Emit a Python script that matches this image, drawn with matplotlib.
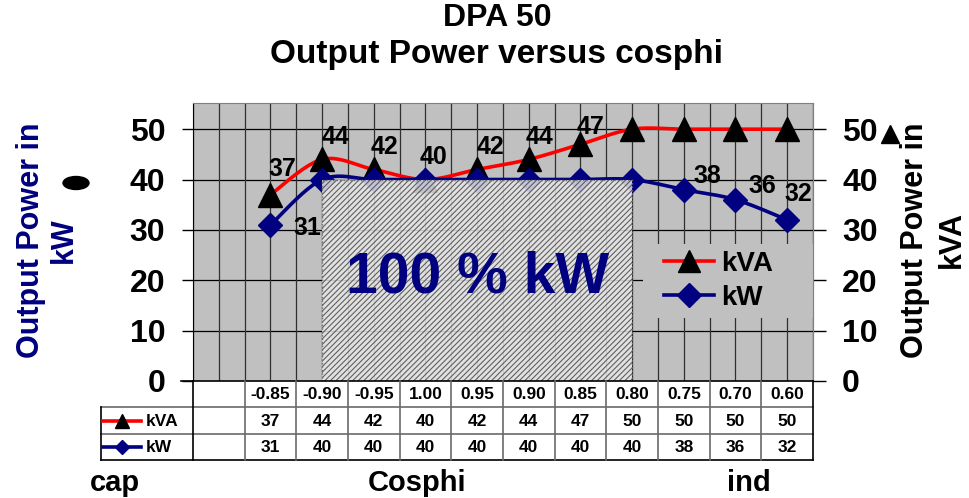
import numpy as np
import matplotlib
matplotlib.use("Agg")
import matplotlib.pyplot as plt
from matplotlib.patches import Rectangle, Ellipse
from matplotlib.lines import Line2D

plt.rcParams['font.family'] = ['Liberation Sans', 'DejaVu Sans']
plt.rcParams['font.weight'] = 'bold'
plt.rcParams['hatch.linewidth'] = 0.8

# data
cosphi = ["-0.85", "-0.90", "-0.95", "1.00", "0.95", "0.90", "0.85", "0.80", "0.75", "0.70", "0.60"]
kva = [37, 44, 42, 40, 42, 44, 47, 50, 50, 50, 50]
kw = [31, 40, 40, 40, 40, 40, 40, 40, 38, 36, 32]
full_kw_range = ("-0.90", "0.80")
full_kw_level = 40

W, H = 970, 498
GRAY = '#c0c0c0'
NAVY = '#000080'


def fx(px):
    return px / W


def fy(py):
    return 1 - py / H


def smooth(x, y, n=24):
    # excel-like smoothed line (bezier through the points)
    x = np.asarray(x, float)
    y = np.asarray(y, float)
    px = np.r_[x[0], x, x[-1]]
    py = np.r_[y[0], y, y[-1]]
    t = np.linspace(0, 1, n)
    xs, ys = [], []
    for i in range(1, len(px) - 2):
        p0 = np.array([px[i - 1], py[i - 1]])
        p1 = np.array([px[i], py[i]])
        p2 = np.array([px[i + 1], py[i + 1]])
        p3 = np.array([px[i + 2], py[i + 2]])
        c1 = p1 + (p2 - p0) / 6
        c2 = p2 - (p3 - p1) / 6
        b = ((1 - t) ** 3)[:, None] * p1 + (3 * (1 - t) ** 2 * t)[:, None] * c1 \
            + (3 * (1 - t) * t ** 2)[:, None] * c2 + (t ** 3)[:, None] * p2
        xs.extend(b[:, 0])
        ys.extend(b[:, 1])
    return np.array(xs), np.array(ys)


fig = plt.figure(figsize=(W / 100, H / 100), dpi=100)

x0, x1, yb, yt = 193, 813, 381, 103
ax = fig.add_axes([fx(x0), fy(yb), fx(x1 - x0), (yb - yt) / H])
ax.set_facecolor(GRAY)
ax.set_xlim(-0.5, 11.5)
ax.set_ylim(0, 55.2)
xpos = np.arange(1, len(cosphi) + 1)

for v in range(10, 60, 10):
    ax.axhline(v, color='black', lw=0.9, zorder=1)
for v in np.arange(-0.5, 11.6, 0.5):
    ax.axvline(v, color='#303030', lw=0.9, zorder=1)

sx, sy = smooth(xpos, kva)
ax.plot(sx, sy, color='red', lw=2.6, zorder=3)
ax.plot(xpos, kva, ls='none', marker='^', ms=17, color='black', zorder=3)
sx, sy = smooth(xpos, kw)
ax.plot(sx, sy, color=NAVY, lw=2.6, zorder=3.5)
ax.plot(xpos, kw, ls='none', marker='D', ms=12, color=NAVY, zorder=3.5)

# 100 % kW area
r0 = xpos[cosphi.index(full_kw_range[0])]
r1 = xpos[cosphi.index(full_kw_range[1])]
ax.add_patch(Rectangle((r0, 0), r1 - r0, full_kw_level, facecolor='#e8e8e8',
                       edgecolor='#4a4a4a', hatch='//////', lw=0, alpha=0.85, zorder=4))
ax.add_patch(Rectangle((r0, 0), r1 - r0, full_kw_level, fill=False,
                       edgecolor='#707070', ls=(0, (1, 1.5)), lw=1, zorder=4))
ax.text((r0 + r1) / 2, 20.5, "100 % kW", color=NAVY, fontsize=41,
        ha='center', va='center', zorder=6)

# data labels (offsets in px, right/up)
kva_offsets = {0: (12, 26), 1: (13, 22), 2: (11, 22), 3: (8, 23), 4: (13, 22), 5: (11, 22), 6: (10, 17)}
kw_offsets = {0: (37, -3), 8: (24, 14), 9: (27, 14), 10: (11, 26)}
for i, (dx, dy) in kva_offsets.items():
    ax.annotate(str(kva[i]), (xpos[i], kva[i]), xytext=(dx * 0.72, dy * 0.72),
                textcoords='offset points', ha='center', va='center', fontsize=18, zorder=6)
for i, (dx, dy) in kw_offsets.items():
    ax.annotate(str(kw[i]), (xpos[i], kw[i]), xytext=(dx * 0.72, dy * 0.72),
                textcoords='offset points', ha='center', va='center', fontsize=18, zorder=6)

# legend
ax.add_patch(Rectangle((0.726, 0.227), 0.274, 0.266, transform=ax.transAxes,
                       facecolor=GRAY, edgecolor='none', zorder=5))
handles = [Line2D([], [], color='red', lw=2.6, marker='^', ms=16, mfc='black', mec='black'),
           Line2D([], [], color=NAVY, lw=2.6, marker='D', ms=12, mfc=NAVY, mec=NAVY)]
leg = ax.legend(handles, ['kVA', 'kW'], loc='center', bbox_to_anchor=(0.71, 0.227, 0.274, 0.266),
                frameon=False, prop={'size': 20, 'weight': 'bold'}, handlelength=1.8,
                handletextpad=0.25, labelspacing=0.3, borderpad=0)
leg.set_zorder(8)

# axes styling
for side in ['top', 'right']:
    ax.spines[side].set_color('#808080')
ax.spines['left'].set_color('black')
ax.spines['bottom'].set_visible(False)
ax.set_xticks([])
ax.set_yticks(range(0, 60, 10))
ax.tick_params(axis='y', length=8, width=1, labelsize=23, pad=12, colors='black')
ax2 = ax.twinx()
ax2.set_ylim(ax.get_ylim())
ax2.set_yticks(range(0, 60, 10))
ax2.tick_params(axis='y', length=9, width=1, labelsize=23, pad=12)
ax2.spines['right'].set_color('#808080')
ax2.spines['top'].set_visible(False)
ax2.spines['left'].set_visible(False)
ax2.spines['bottom'].set_visible(False)
for lab in ax.get_yticklabels() + ax2.get_yticklabels():
    lab.set_fontweight('bold')

# data table
tl = 101
tab = fig.add_axes([fx(tl), fy(460), fx(x1 - tl), 79 / H])
xl = -0.5 - (x0 - tl) / 51.67
tab.set_xlim(xl, 11.5)
tab.set_ylim(0, 3)
tab.axis('off')
lc = '#6a6a6a'
tab.plot([-0.5 - 0.24, 11.5], [3, 3], color='black', lw=1.2, clip_on=False)
for yy in (0, 1, 2):
    tab.plot([xl, 11.5], [yy, yy], color='black' if yy == 0 else lc, lw=1.2, clip_on=False)
tab.plot([xl, xl], [0, 2], color='black', lw=1.2, clip_on=False)
tab.plot([-0.5, -0.5], [0, 3], color='black', lw=1.2, clip_on=False)
for v in np.arange(0.5, 11, 1.0):
    tab.plot([v, v], [0, 3], color=lc, lw=1.2, clip_on=False)
tab.plot([11.5, 11.5], [0, 3], color='black', lw=1.2, clip_on=False)
for i, (c, a, b) in enumerate(zip(cosphi, kva, kw)):
    tab.text(xpos[i], 2.47, c, ha='center', va='center', fontsize=12.5)
    tab.text(xpos[i], 1.47, str(a), ha='center', va='center', fontsize=12.5)
    tab.text(xpos[i], 0.47, str(b), ha='center', va='center', fontsize=12.5)
tab.plot([xl + 0.04, xl + 0.78], [1.5, 1.5], color='red', lw=2.6, clip_on=False)
tab.plot([xl + 0.41], [1.5], marker='^', ms=10, color='black', clip_on=False)
tab.plot([xl + 0.04, xl + 0.78], [0.5, 0.5], color=NAVY, lw=2.6, clip_on=False)
tab.plot([xl + 0.41], [0.5], marker='D', ms=7, color=NAVY, clip_on=False)
tab.text(xl + 0.86, 1.47, 'kVA', ha='left', va='center', fontsize=12.5)
tab.text(xl + 0.86, 0.47, 'kW', ha='left', va='center', fontsize=12.5)

# titles and axis texts
fig.text(fx(497), fy(18), "DPA 50", ha='center', va='center', fontsize=23)
fig.text(fx(497), fy(55), "Output Power versus cosphi", ha='center', va='center', fontsize=24)
fig.text(fx(31), fy(240), "Output Power in", rotation=90, ha='center', va='center',
         fontsize=22, color=NAVY)
fig.text(fx(64), fy(240), "kW", rotation=90, ha='center', va='center', fontsize=22, color=NAVY)
fig.text(fx(915), fy(240), "Output Power in", rotation=90, ha='center', va='center', fontsize=22)
fig.text(fx(952), fy(240), "kVA", rotation=90, ha='center', va='center', fontsize=22)
fig.add_artist(Ellipse((fx(76), fy(183)), fx(26), 13 / H, color='black', transform=fig.transFigure))
fig.add_artist(Line2D([fx(890)], [fy(134)], marker='^', ms=13, color='black',
                      transform=fig.transFigure))
fig.text(fx(115), fy(483), "cap", ha='center', va='center', fontsize=21)
fig.text(fx(417), fy(483), "Cosphi", ha='center', va='center', fontsize=21)
fig.text(fx(749), fy(483), "ind", ha='center', va='center', fontsize=21)

fig.savefig("out.png", dpi=100, facecolor='white')
